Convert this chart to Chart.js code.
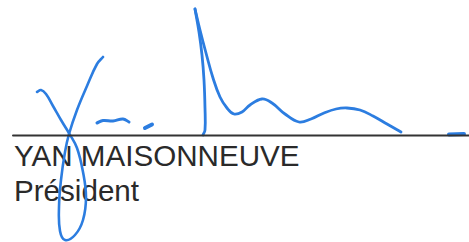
<!DOCTYPE html>
<html>
<head>
<meta charset="utf-8">
<script src="https://cdn.jsdelivr.net/npm/chart.js@4/dist/chart.umd.min.js"></script>
<style>
    body { margin: 0; background: #fff; }
    #wrap { position: relative; width: 469px; height: 242px; overflow: hidden; }
    #sig { position: absolute; left: 0; top: 0; }
    .txt {
        position: absolute; left: 14px;
        font-family: "Liberation Sans", Arial, sans-serif;
        font-size: 29.6px; line-height: 30px; color: #2a2a2a;
        white-space: nowrap;
    }
</style>
</head>
<body>
<div id="wrap">
    <div class="txt" style="top:141px">YAN MAISONNEUVE</div>
    <div class="txt" style="top:176px">Président</div>
    <canvas id="sig" width="469" height="242"></canvas>
</div>
<script>
// trait de signature (ligne noire)
var ligne = [{x: 13, y: 135.5}, {x: 469, y: 135.5}];

// le "Y" : bras gauche, boucle, bras droit
var brasGauche = [
    {x: 37, y: 92}, {x: 41, y: 90}, {x: 46, y: 94}, {x: 53, y: 106},
    {x: 61, y: 120}, {x: 69, y: 133}
];
var boucle = [
    {x: 69, y: 133}, {x: 77, y: 148}, {x: 83, y: 172}, {x: 86, y: 197},
    {x: 83, y: 220}, {x: 75, y: 235}, {x: 65, y: 240}, {x: 60, y: 231},
    {x: 59, y: 207}, {x: 61, y: 180}, {x: 65, y: 152}, {x: 69, y: 134},
    {x: 77, y: 110}, {x: 87, y: 86}, {x: 97, y: 64}, {x: 103, y: 57}
];

// petits traits
var tiret = [{x: 97, y: 123}, {x: 103, y: 120.5}, {x: 113, y: 121}, {x: 123, y: 119}, {x: 129, y: 122}];
var point = [{x: 145, y: 128}, {x: 152, y: 124.5}];

// grand trait montant puis la vague
var montee = [
    {x: 203, y: 135}, {x: 205, y: 130}, {x: 205, y: 108}, {x: 204, y: 80},
    {x: 202, y: 55}, {x: 199, y: 32}, {x: 195, y: 9}
];
var vague = [
    {x: 195, y: 9}, {x: 200, y: 30}, {x: 206, y: 53}, {x: 213, y: 78},
    {x: 220, y: 97}, {x: 227, y: 108}, {x: 234, y: 114}, {x: 242, y: 112},
    {x: 250, y: 105}, {x: 262, y: 99}, {x: 272, y: 103}, {x: 285, y: 114},
    {x: 299, y: 122}, {x: 311, y: 119}, {x: 324, y: 113}, {x: 336, y: 109},
    {x: 347, y: 108}, {x: 360, y: 110}, {x: 373, y: 116}, {x: 387, y: 124},
    {x: 401, y: 132}
];
var bout = [{x: 449, y: 134.5}, {x: 464, y: 134}];

var bleu = '#2c7de0';

function trait(data, width, color) {
    return {
        data: data,
        showLine: true,
        borderColor: color || bleu,
        borderWidth: width || 2.6,
        pointRadius: 0,
        tension: 0.4,
        fill: false,
        borderCapStyle: 'round',
        borderJoinStyle: 'round'
    };
}

new Chart(document.getElementById('sig'), {
    type: 'scatter',
    data: {
        datasets: [
            trait(ligne, 2, '#333333'),
            trait(brasGauche),
            trait(boucle),
            trait(tiret, 3),
            trait(point, 4),
            trait(montee, 2.8),
            trait(vague, 2.8),
            trait(bout, 4)
        ]
    },
    options: {
        responsive: false,
        animation: false,
        layout: { padding: 0 },
        scales: {
            x: { type: 'linear', min: 0, max: 469, display: false },
            y: { type: 'linear', min: 0, max: 242, reverse: true, display: false }
        },
        plugins: {
            legend: { display: false },
            tooltip: { enabled: false }
        }
    }
});
</script>
</body>
</html>
